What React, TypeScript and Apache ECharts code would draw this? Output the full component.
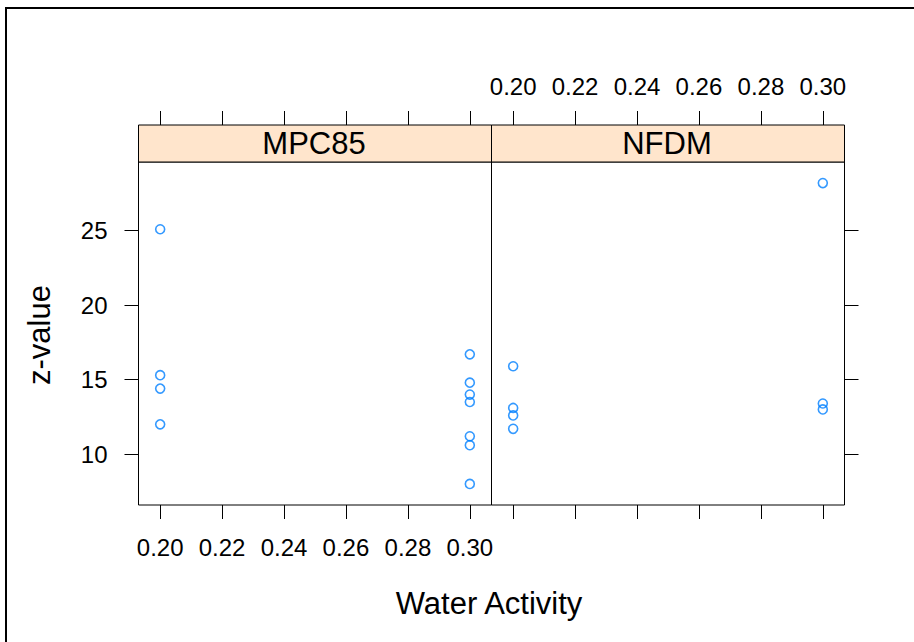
import React, { useEffect, useRef } from "react";
import * as echarts from "echarts";

const FONT = '"Liberation Sans", Arial, sans-serif';

// ---- data ----
const panelNames = ["MPC85", "NFDM"];
const xTicks = [0.2, 0.22, 0.24, 0.26, 0.28, 0.3];
const yTicks = [10, 15, 20, 25];

const mpc85Water = [0.2, 0.2, 0.2, 0.2, 0.3, 0.3, 0.3, 0.3, 0.3, 0.3, 0.3];
const mpc85Z = [25.1, 15.3, 14.4, 12.0, 16.7, 14.8, 14.0, 13.5, 11.2, 10.6, 8.0];

const nfdmWater = [0.2, 0.2, 0.2, 0.2, 0.3, 0.3, 0.3];
const nfdmZ = [15.9, 13.1, 12.6, 11.7, 28.2, 13.4, 13.0];

const xLabel = "Water Activity";
const yLabel = "z-value";

// ---- layout ----
const PANEL_TOP = 162;
const PANEL_H = 343;
const STRIP_H = 37;
const P0_LEFT = 138.5;
const P_W = 353;
const P1_LEFT = P0_LEFT + P_W;

function padRange(vals: number[], frac = 0.07): [number, number] {
  const lo = Math.min(...vals);
  const hi = Math.max(...vals);
  const r = hi - lo;
  return [lo - frac * r, hi + frac * r];
}

export default function App() {
  const ref = useRef<HTMLDivElement>(null);

  useEffect(() => {
    if (!ref.current) return;
    const chart = echarts.init(ref.current, undefined, { renderer: "svg" });

    const [xMin, xMax] = padRange([...mpc85Water, ...nfdmWater]);
    const [yMin, yMax] = padRange([...mpc85Z, ...nfdmZ]);

    const tickStyle = { color: "#000", width: 1 };
    const labelText = { color: "#000", fontFamily: FONT, fontSize: 24 };

    const xAxisBase = (gridIndex: number, position: "top" | "bottom", showLabel: boolean) => ({
      type: "value" as const,
      gridIndex,
      position,
      offset: position === "top" ? STRIP_H : 0,
      min: xMin,
      max: xMax,
      axisLine: { show: false },
      splitLine: { show: false },
      axisTick: {
        show: true,
        inside: false,
        length: 14,
        lineStyle: tickStyle,
        customValues: xTicks,
      },
      axisLabel: {
        show: showLabel,
        ...labelText,
        margin: position === "top" ? 27 : 30,
        customValues: xTicks,
        formatter: (v: number) => v.toFixed(2),
      },
    });

    const yAxisBase = (gridIndex: number, position: "left" | "right", showLabel: boolean) => ({
      type: "value" as const,
      gridIndex,
      position,
      min: yMin,
      max: yMax,
      axisLine: { show: false },
      splitLine: { show: false },
      axisTick: {
        show: true,
        inside: false,
        length: 14,
        lineStyle: tickStyle,
        customValues: yTicks,
      },
      axisLabel: {
        show: showLabel,
        ...labelText,
        margin: 31,
        customValues: yTicks,
        formatter: (v: number) => String(v),
      },
    });

    const pointStyle = {
      color: "rgba(0,0,0,0)",
      borderColor: "#0080ff",
      borderWidth: 1.6,
    };

    const panels = [
      { left: P0_LEFT, width: P_W, name: panelNames[0] },
      { left: P1_LEFT, width: P_W, name: panelNames[1] },
    ];

    const graphics: any[] = [
      {
        type: "rect",
        shape: { x: 6, y: 8, width: 1000, height: 1000 },
        style: { fill: "none", stroke: "#000", lineWidth: 2 },
        silent: true,
      },
    ];
    panels.forEach((p) => {
      graphics.push({
        type: "rect",
        shape: { x: p.left, y: PANEL_TOP - STRIP_H, width: p.width, height: STRIP_H },
        style: { fill: "#ffe5cc", stroke: "#000", lineWidth: 1 },
        silent: true,
      });
      graphics.push({
        type: "text",
        x: p.left + p.width / 2 - 1,
        y: PANEL_TOP - STRIP_H / 2,
        style: {
          text: p.name,
          fill: "#000",
          font: `31px ${FONT}`,
          align: "center",
          verticalAlign: "middle",
        },
        silent: true,
      });
    });
    graphics.push({
      type: "text",
      x: 489,
      y: 603,
      style: {
        text: xLabel,
        fill: "#000",
        font: `31px ${FONT}`,
        align: "center",
        verticalAlign: "middle",
      },
      silent: true,
    });
    graphics.push({
      type: "text",
      x: 39,
      y: 335,
      rotation: Math.PI / 2,
      style: {
        text: yLabel,
        fill: "#000",
        font: `31px ${FONT}`,
        align: "center",
        verticalAlign: "middle",
      },
      silent: true,
    });

    chart.setOption({
      animation: false,
      backgroundColor: "#fff",
      grid: panels.map((p) => ({
        left: p.left,
        top: PANEL_TOP,
        width: p.width,
        height: PANEL_H,
        show: true,
        borderColor: "#000",
        borderWidth: 1,
        backgroundColor: "transparent",
      })),
      xAxis: [
        xAxisBase(0, "bottom", true),
        xAxisBase(0, "top", false),
        xAxisBase(1, "bottom", false),
        xAxisBase(1, "top", true),
      ],
      yAxis: [yAxisBase(0, "left", true), yAxisBase(1, "right", false)],
      series: [
        {
          name: panelNames[0],
          type: "scatter",
          xAxisIndex: 0,
          yAxisIndex: 0,
          symbol: "circle",
          symbolSize: 9,
          itemStyle: pointStyle,
          data: mpc85Water.map((x, i) => [x, mpc85Z[i]]),
        },
        {
          name: panelNames[1],
          type: "scatter",
          xAxisIndex: 2,
          yAxisIndex: 1,
          symbol: "circle",
          symbolSize: 9,
          itemStyle: pointStyle,
          data: nfdmWater.map((x, i) => [x, nfdmZ[i]]),
        },
      ],
      graphic: graphics,
    });

    return () => chart.dispose();
  }, []);

  return (
    <div
      ref={ref}
      style={{ position: "fixed", left: 0, top: 0, width: 914, height: 642, background: "#fff" }}
    />
  );
}
